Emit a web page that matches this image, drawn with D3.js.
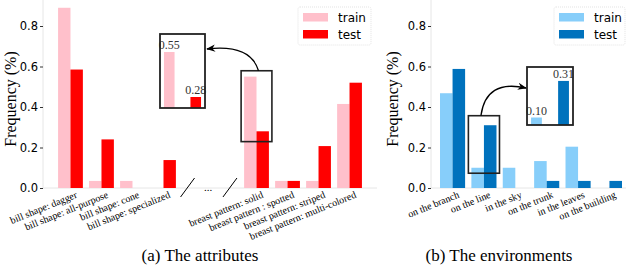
<!DOCTYPE html>
<html>
<head>
<meta charset="utf-8">
<script src="https://d3js.org/d3.v7.min.js"></script>
<style>
  body { margin: 0; background: #fff; }
  svg { display: block; }
</style>
</head>
<body>
<svg width="626" height="266"></svg>
<script>
// left panel: attributes
var attrCats = ["bill shape: dagger", "bill shape: all-purpose", "bill shape: cone", "bill shape: specialized",
                "gap1", "gap2",
                "breast pattern: solid", "breast pattern : spotted", "breast pattern: striped", "breast pattern: multi-colored"];
var attrTrain = [0.89, 0.035, 0.035, 0, null, null, 0.55, 0.035, 0.035, 0.415];
var attrTest  = [0.585, 0.24, 0, 0.138, null, null, 0.28, 0.035, 0.207, 0.52];

// right panel: environments
var envCats = ["on the branch", "on the line", "in the sky", "on the trunk", "in the leaves", "on the building"];
var envTrain = [0.468, 0.10, 0.10, 0.133, 0.204, 0];
var envTest  = [0.588, 0.31, 0, 0.035, 0.035, 0.035];

var yTicks = [0, 0.2, 0.4, 0.6, 0.8];
var seriesNames = ["train", "test"];

var svg = d3.select("svg");
var serif = "Liberation Serif, Times New Roman, serif";
var sans = "DejaVu Sans, sans-serif";

function panel(opt) {
  var g = svg.append("g");
  var x = d3.scaleBand().domain(opt.cats).range(opt.xr).paddingInner(0.2).paddingOuter(opt.po);
  var y = d3.scaleLinear().domain([0, 0.8]).range([188, 26]);
  var bw = x.bandwidth() / 2;

  // spines
  g.append("line").attr("x1", opt.xr[0]).attr("x2", opt.xr[0])
    .attr("y1", y(0)).attr("y2", y(0.93)).attr("stroke", "#e6e6e6").attr("stroke-width", 1);
  g.append("line").attr("x1", opt.xr[0]).attr("x2", opt.xr[1])
    .attr("y1", y(0)).attr("y2", y(0)).attr("stroke", "#e6e6e6").attr("stroke-width", 1);

  // bars
  opt.cats.forEach(function (c, i) {
    [opt.train[i], opt.test[i]].forEach(function (v, k) {
      if (v == null || v === 0) return;
      g.append("rect")
        .attr("x", x(c) + k * bw).attr("width", bw)
        .attr("y", y(v)).attr("height", y(0) - y(v))
        .attr("fill", opt.colors[k]);
    });
  });

  // y axis
  var ya = g.append("g").attr("transform", "translate(" + opt.xr[0] + ",0)")
    .call(d3.axisLeft(y).tickValues(yTicks).tickFormat(d3.format(".1f")).tickSize(3).tickPadding(2));
  ya.select(".domain").remove();
  ya.selectAll(".tick line").attr("stroke", "#333");
  ya.selectAll(".tick text").attr("font-family", sans).attr("font-size", 11.5).attr("fill", "#000");

  // x axis labels
  var xa = g.append("g").attr("transform", "translate(0," + y(0) + ")")
    .call(d3.axisBottom(x).tickSize(0).tickFormat(function (d) { return d.indexOf("gap") === 0 ? "" : d; }));
  xa.select(".domain").remove();
  xa.selectAll(".tick text")
    .attr("font-family", serif).attr("font-size", 10).attr("fill", "#000")
    .attr("text-anchor", "end")
    .attr("transform", "translate(" + 6 + ",6) rotate(-22)")
    .attr("dy", "0.35em").attr("y", 0);

  // y label
  g.append("text")
    .attr("transform", "translate(" + opt.ylx + ",99) rotate(-90)")
    .attr("text-anchor", "middle").attr("dy", "0.35em")
    .attr("font-family", serif).attr("font-size", 16)
    .text("Frequency (%)");

  // legend
  var lg = g.append("g");
  lg.append("rect").attr("x", opt.leg[0]).attr("y", 7).attr("width", opt.leg[1] - opt.leg[0]).attr("height", 38)
    .attr("rx", 2).attr("fill", "#fff").attr("stroke", "#dcdcdc").attr("stroke-width", 0.8)
    .attr("stroke-dasharray", "1,1");
  seriesNames.forEach(function (s, k) {
    lg.append("rect").attr("x", opt.leg[0] + 5).attr("y", 13 + k * 17).attr("width", 25).attr("height", 8.5)
      .attr("fill", opt.colors[k]);
    lg.append("text").attr("x", opt.leg[0] + 40).attr("y", 17.5 + k * 17).attr("dy", "0.35em")
      .attr("font-family", sans).attr("font-size", 12).text(s);
  });

  // highlighted group box on the main chart
  var hc = opt.cats[opt.hi];
  var bx0 = x(hc) - 3, bx1 = x(hc) + x.bandwidth() + 3;
  g.append("rect").attr("x", bx0).attr("width", bx1 - bx0)
    .attr("y", y(opt.hiBox[1])).attr("height", y(opt.hiBox[0]) - y(opt.hiBox[1]))
    .attr("fill", "none").attr("stroke", "#222").attr("stroke-width", 1.6);

  // inset (zoomed view)
  var ins = opt.inset;
  var iy = d3.scaleLinear().domain(ins.dom).range([ins.y1, ins.y0]);
  var ix = d3.scaleBand().domain(seriesNames).range([ins.x0, ins.x1]).paddingInner(0.6).paddingOuter(0.15);
  var vals = [opt.train[opt.hi], opt.test[opt.hi]];
  seriesNames.forEach(function (s, k) {
    g.append("rect").attr("x", ix(s)).attr("width", ix.bandwidth())
      .attr("y", iy(vals[k])).attr("height", ins.y1 - iy(vals[k]))
      .attr("fill", opt.colors[k]);
    g.append("text").attr("x", ix(s) + ix.bandwidth() / 2).attr("y", iy(vals[k]) - 3)
      .attr("text-anchor", "middle").attr("font-family", serif).attr("font-size", 12).attr("fill", "#333")
      .text(d3.format(".2f")(vals[k]));
  });
  g.append("rect").attr("x", ins.x0).attr("y", ins.y0).attr("width", ins.x1 - ins.x0).attr("height", ins.y1 - ins.y0)
    .attr("fill", "none").attr("stroke", "#222").attr("stroke-width", 1.8);

  // arrow
  var a = opt.arrow(x, y, bx0, bx1, ins);
  g.append("path").attr("d", a).attr("fill", "none").attr("stroke", "#000").attr("stroke-width", 1.3)
    .attr("marker-end", "url(#arrowhead)");

  return { x: x, y: y };
}

svg.append("defs").append("marker").attr("id", "arrowhead")
  .attr("viewBox", "0 0 10 10").attr("refX", 9).attr("refY", 5)
  .attr("markerWidth", 7).attr("markerHeight", 7).attr("orient", "auto-start-reverse")
  .append("path").attr("d", "M0,1 L10,5 L0,9 L3,5 Z").attr("fill", "#000");

var left = panel({
  cats: attrCats, train: attrTrain, test: attrTest, xr: [43, 377], po: 0.486,
  colors: ["#ffc0cb", "#ff0000"], ylx: 10, leg: [298, 371],
  hi: 6, hiBox: [0.229, 0.579],
  inset: { x0: 160, x1: 205, y0: 34, y1: 108, dom: [0.214, 0.658] },
  arrow: function (x, y, bx0, bx1, ins) {
    var sx = (bx0 + bx1) / 2 + 2, sy = y(0.579);
    return "M" + sx + "," + sy + " Q" + (sx - 8) + "," + (ins.y0 + 10) + " " + (ins.x1 + 2) + "," + (ins.y0 + 15);
  }
});

// break marks between the two attribute groups
var lx = left.x, ly = left.y;
[lx("gap1") + lx.bandwidth() * 0.22, lx("gap2") + lx.bandwidth() * 0.68].forEach(function (cx) {
  svg.append("line").attr("x1", cx - 7).attr("y1", ly(0) + 9).attr("x2", cx + 7).attr("y2", ly(0) - 10)
    .attr("stroke", "#000").attr("stroke-width", 1);
});
svg.append("text").attr("x", (lx("gap1") + lx("gap2") + lx.bandwidth()) / 2 - 2).attr("y", ly(0) + 3)
  .attr("text-anchor", "middle").attr("font-family", serif).attr("font-size", 11).text("...");

var right = panel({
  cats: envCats, train: envTrain, test: envTest, xr: [431, 631], po: 0.287,
  colors: ["#87cefa", "#0072bd"], ylx: 392, leg: [554, 625],
  hi: 1, hiBox: [0.073, 0.357],
  inset: { x0: 527, x1: 573, y0: 67, y1: 125, dom: [0.057, 0.39] },
  arrow: function (x, y, bx0, bx1, ins) {
    var sx = (bx0 + bx1) / 2 - 3, sy = y(0.357);
    return "M" + sx + "," + sy + " Q" + (sx + 5) + "," + (ins.y0 + 12) + " " + (ins.x0 - 1) + "," + (ins.y0 + 21);
  }
});

// captions
svg.append("text").attr("x", 200).attr("y", 261).attr("text-anchor", "middle")
  .attr("font-family", serif).attr("font-size", 17).text("(a) The attributes");
svg.append("text").attr("x", 499).attr("y", 261).attr("text-anchor", "middle")
  .attr("font-family", serif).attr("font-size", 17).text("(b) The environments");
</script>
</body>
</html>
